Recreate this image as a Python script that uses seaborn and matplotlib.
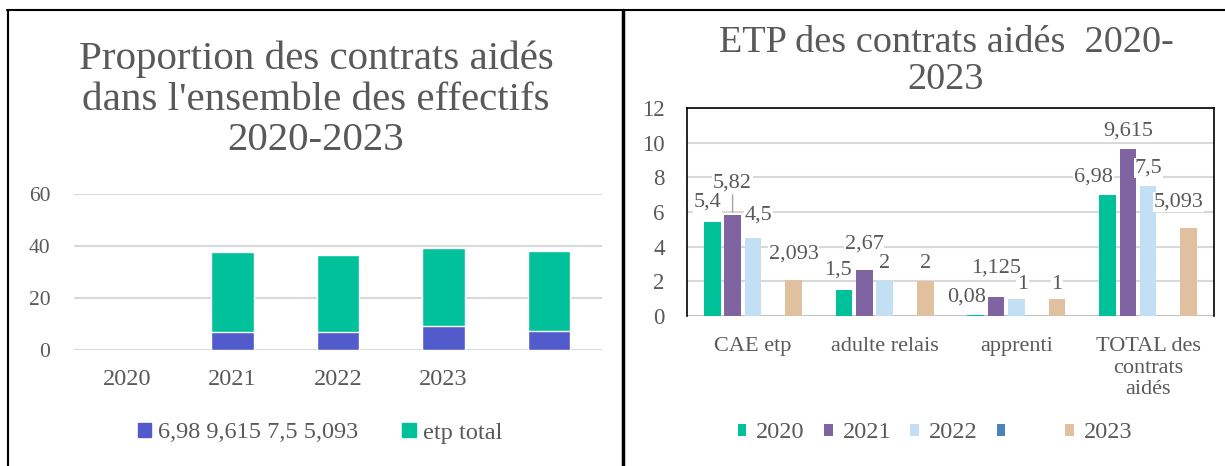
import matplotlib
matplotlib.use("Agg")
import numpy as np
import pandas as pd
import matplotlib.pyplot as plt
import seaborn as sns
from matplotlib.lines import Line2D
from matplotlib.patches import Patch

# --- données ---
annees_gauche = ["2020", "2021", "2022", "2023", ""]
contrats_etp = [np.nan, 7.0, 7.0, 9.4, 7.4]
etp_total_reste = [np.nan, 30.6, 29.8, 29.8, 30.6]
legende_gauche = ["6,98 9,615 7,5 5,093", "etp total"]

categories = ["CAE etp", "adulte relais", "apprenti", "TOTAL des\ncontrats\naidés"]
series = ["2020", "2021", "2022", "     ", "2023"]
etp_2020 = [5.4, 1.5, 0.08, 6.98]
etp_2021 = [5.82, 2.67, 1.125, 9.615]
etp_2022 = [4.5, 2, 1, 7.5]
etp_vide = [0, 0, 0, 0]
etp_2023 = [2.093, 2, 1, 5.093]

titre_gauche = "Proportion des contrats aidés\ndans l'ensemble des effectifs\n2020-2023"
titre_droite = "ETP des contrats aidés  2020-\n2023"

# --- style ---
VERT = "#00C19A"
BLEU = "#515BCC"
couleurs = ["#00C19A", "#8064A2", "#C3DFF3", "#4F81BD", "#E0C09E"]
GRIS = "#595959"
POLICE = ["Liberation Serif", "DejaVu Serif"]
W, H = 1225, 466

sns.set_theme(style="white")
plt.rcParams["font.family"] = POLICE
plt.rcParams["text.color"] = GRIS
plt.rcParams["xtick.color"] = GRIS
plt.rcParams["ytick.color"] = GRIS

fig = plt.figure(figsize=(W / 100, H / 100), dpi=100)
ax1 = fig.add_axes([74 / W, 1 - 350 / H, 528 / W, 155.7 / H])
ax2 = fig.add_axes([687 / W, 1 - 316 / H, 527 / W, 208 / H])

# cadre du tableau
fig.add_artist(Line2D([7 / W, 1], [1 - 10 / H] * 2, color="black", lw=1.5))
fig.add_artist(Line2D([7.5 / W] * 2, [0, 1 - 10 / H], color="black", lw=1.5))
fig.add_artist(Line2D([622.5 / W] * 2, [0, 1 - 10 / H], color="black", lw=2.5))

# --- graphique de gauche : barres empilées ---
df_g = pd.DataFrame({
    "annee": annees_gauche,
    "contrats": contrats_etp,
    "total": np.array(contrats_etp) + np.array(etp_total_reste),
})
sns.barplot(data=df_g, x="annee", y="total", order=annees_gauche, color=VERT,
            saturation=1, width=0.4, errorbar=None, ax=ax1, zorder=2)
sns.barplot(data=df_g, x="annee", y="contrats", order=annees_gauche, color=BLEU,
            saturation=1, width=0.4, errorbar=None, ax=ax1, zorder=3)
ax1.set_ylim(0, 60)
ax1.set_xlim(-0.5, 4.5)
ax1.set_yticks([0, 20, 40, 60])
ax1.set_axisbelow(True)
ax1.yaxis.grid(True, color="#d9d9d9", lw=1.5)
ax1.set_xlabel("")
ax1.set_ylabel("")
for s in ax1.spines.values():
    s.set_visible(False)
ax1.tick_params(axis="y", length=0, pad=17, labelsize=15.5)
ax1.tick_params(axis="x", length=0, pad=14, labelsize=17.5)
ax1.legend([Patch(color=BLEU), Patch(color=VERT)], legende_gauche, loc="center",
           bbox_to_anchor=(320 / W, 1 - 433 / H), bbox_transform=fig.transFigure,
           ncol=2, frameon=False, prop=dict(family=POLICE, size=17.5),
           handlelength=0.55, handleheight=0.55, handletextpad=0.3, columnspacing=1.8)
fig.text(316 / W, 1 - 100 / H, titre_gauche, ha="center", va="center",
         multialignment="center", fontsize=29.5, linespacing=1.12, color=GRIS,
         family=POLICE)

# --- graphique de droite : barres groupées ---
valeurs = [etp_2020, etp_2021, etp_2022, etp_vide, etp_2023]
lignes = []
for nom, vals in zip(series, valeurs):
    for cat, v in zip(categories, vals):
        lignes.append({"categorie": cat, "annee": nom, "etp": v})
df_d = pd.DataFrame(lignes)

sns.barplot(data=df_d, x="categorie", y="etp", hue="annee", order=categories,
            hue_order=series, palette=dict(zip(series, couleurs)), saturation=1,
            width=0.77, gap=0.18, errorbar=None, ax=ax2, zorder=2, linewidth=0)
ax2.set_ylim(0, 12)
ax2.set_xlim(-0.5, 3.5)
ax2.set_yticks(range(0, 13, 2))
ax2.set_axisbelow(True)
ax2.yaxis.grid(True, color="#d9d9d9", lw=1.5)
ax2.axhline(0, color="#bfbfbf", lw=2, zorder=1)
ax2.set_xlabel("")
ax2.set_ylabel("")
for cote in ["left", "top", "right"]:
    ax2.spines[cote].set_color("black")
    ax2.spines[cote].set_linewidth(1.2)
ax2.spines["bottom"].set_visible(False)
ax2.set_xticks(np.arange(-0.5, 4, 1), minor=True)
ax2.tick_params(axis="x", which="minor", length=5, width=1, color="#bfbfbf", direction="out")
ax2.tick_params(axis="x", which="major", length=0, pad=15, labelsize=16)
ax2.tick_params(axis="y", length=0, pad=16, labelsize=16.5)

# décalages des étiquettes (pixels), comme dans l'original
decalages = {(0, 0): (-5, 2), (0, 1): (0, 14), (0, 2): (6, 5), (0, 4): (0, 8),
             (1, 0): (-6, 2), (1, 1): (0, 8),
             (2, 0): (-9, 0), (2, 1): (0, 10), (2, 2): (6, -4), (2, 4): (0, -4),
             (3, 0): (-14, 0), (3, 4): (-10, 8)}
for i_s, cont in enumerate(ax2.containers):
    if series[i_s].strip() == "":
        continue
    for bar in cont:
        xc = bar.get_x() + bar.get_width() / 2
        i_c = int(round(xc))
        v = valeurs[i_s][i_c]
        dx, dy = decalages.get((i_c, i_s), (0, 0))
        fleche = None
        if (i_c, i_s) == (0, 1):
            fleche = dict(arrowstyle="-", color="#a6a6a6", lw=1, shrinkA=1, shrinkB=2)
        ax2.annotate(f"{v:g}".replace(".", ","), (xc, bar.get_height()),
                     xytext=(dx * 0.72, (18 + dy) * 0.72), textcoords="offset points",
                     ha="center", va="center", fontsize=16, color=GRIS, zorder=4,
                     bbox=dict(fc="white", ec="none", pad=0.5), arrowprops=fleche)

sns.move_legend(ax2, "center", bbox_to_anchor=(935 / W, 1 - 433 / H),
                bbox_transform=fig.transFigure, ncol=5, frameon=False, title=None,
                prop=dict(family=POLICE, size=17.5), handlelength=0.35,
                handleheight=0.35, handletextpad=0.4, columnspacing=0.8)
fig.text(946 / W, 1 - 61 / H, titre_droite, ha="center", va="center",
         multialignment="center", fontsize=27.5, linespacing=1.1, color=GRIS,
         family=POLICE)

fig.savefig("out.png", dpi=100)
